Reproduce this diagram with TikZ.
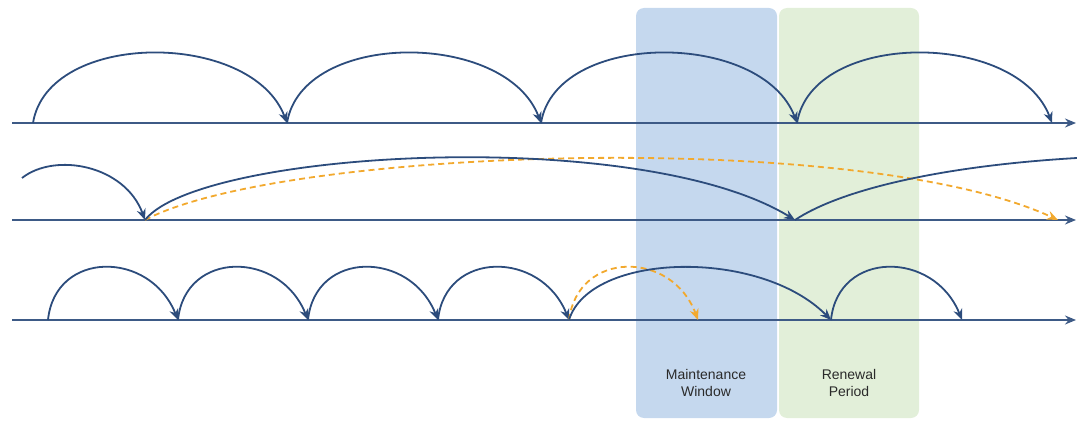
\documentclass[tikz,border=0pt]{standalone}
\usepackage{fontspec}
\setmainfont{Liberation Sans}
\usetikzlibrary{arrows.meta}
\definecolor{navy}{HTML}{2C4C7C}
\definecolor{axisc}{HTML}{3D5A86}
\definecolor{orng}{HTML}{F2A92E}
\definecolor{mwblue}{HTML}{C5D8EE}
\definecolor{rpgreen}{HTML}{E2EFD9}
\definecolor{txt}{HTML}{2A2A2A}
\tikzset{
  axis/.style={draw=axisc, line width=1.8pt, -{Stealth[length=11pt,width=9pt]}},
  hop/.style={draw=navy, line width=1.8pt, -{Stealth[length=11pt,width=9pt]}},
  hopnt/.style={draw=navy, line width=1.8pt},
  ohop/.style={draw=orng, line width=1.8pt, dash pattern=on 6pt off 4pt, -{Stealth[length=11pt,width=9pt]}},
  zone/.style={rounded corners=8pt, draw=none},
  lbl/.style={text=txt, align=center, font=\fontsize{14}{17}\selectfont}
}
\begin{document}
\begin{tikzpicture}[x=1pt,y=-1pt]
\useasboundingbox (0,0) rectangle (1077,422);
% zones
\fill[zone, mwblue] (636,8) rectangle (777,418);
\fill[zone, rpgreen] (779,8) rectangle (919,418);
\node[lbl] (mw) at (706,383) {Maintenance\\Window};
\node[lbl] (rp) at (849,383) {Renewal\\Period};
% axes
\coordinate (a1s) at (12,123); \coordinate (a1e) at (1076,123);
\coordinate (a2s) at (12,220); \coordinate (a2e) at (1076,220);
\coordinate (a3s) at (12,320); \coordinate (a3e) at (1076,320);
\draw[axis] (a1s) -- (a1e);
\draw[axis] (a2s) -- (a2e);
\draw[axis] (a3s) -- (a3e);
% row 1 points
\coordinate (p10) at (33,123);
\coordinate (p11) at (287,123);
\coordinate (p12) at (541,123);
\coordinate (p13) at (797,123);
\coordinate (p14) at (1052,123);
\draw[hop] (p10) .. controls (48,30) and (252,30) .. (p11);
\draw[hop] (p11) .. controls (302,30) and (506,30) .. (p12);
\draw[hop] (p12) .. controls (556,30) and (762,30) .. (p13);
\draw[hop] (p13) .. controls (812,30) and (1017,30) .. (p14);
% row 2
\coordinate (p20) at (22,178);
\coordinate (p21) at (145,220);
\coordinate (p22) at (795,220);
\coordinate (p23) at (1077,158);
\coordinate (p24) at (1058,220);
\draw[hop] (p20) .. controls (55,152) and (125,165) .. (p21);
\draw[ohop] (p21) .. controls (280,148) and (860,128) .. (p24);
\draw[hop] (p21) .. controls (200,150) and (640,125) .. (p22);
\draw[hopnt] (p22) .. controls (840,190) and (940,166) .. (p23);
% row 3
\coordinate (p30) at (48,320);
\coordinate (p31) at (178,320);
\coordinate (p32) at (308,320);
\coordinate (p33) at (438,320);
\coordinate (p34) at (569,320);
\coordinate (p35) at (698,320);
\coordinate (p36) at (831,320);
\coordinate (p37) at (962,320);
\draw[hop] (p30) .. controls (55,250) and (150,250) .. (p31);
\draw[hop] (p31) .. controls (185,250) and (280,250) .. (p32);
\draw[hop] (p32) .. controls (315,250) and (410,250) .. (p33);
\draw[hop] (p33) .. controls (445,250) and (541,250) .. (p34);
\draw[ohop] (p34) .. controls (578,250) and (672,250) .. (p35);
\draw[hop] (p34) .. controls (590,252) and (760,248) .. (p36);
\draw[hop] (p36) .. controls (838,250) and (934,250) .. (p37);
\end{tikzpicture}
\end{document}
